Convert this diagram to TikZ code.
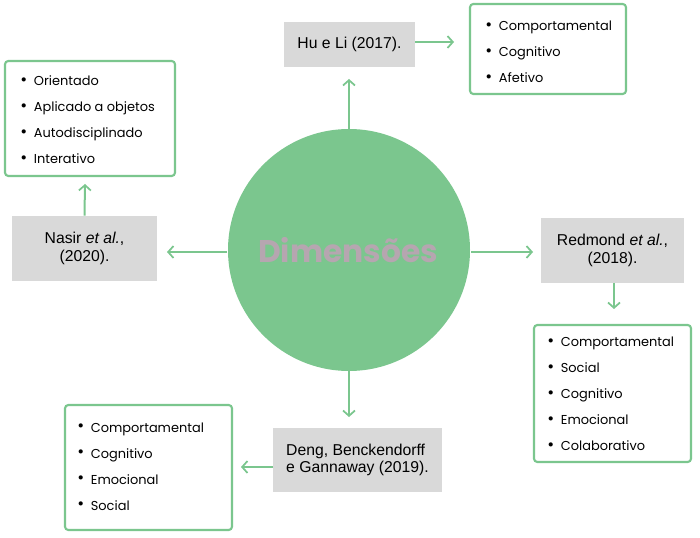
\documentclass[tikz,border=0pt]{standalone}
\usepackage{fontspec}
\setmainfont{Poppins}
\newfontfamily\reffont{Liberation Sans}
\usetikzlibrary{arrows.meta}
\definecolor{grn}{HTML}{7BC68E}
\definecolor{boxgray}{HTML}{D9D9D9}
\definecolor{dimtxt}{HTML}{B6A6B0}
\tikzset{
  refbox/.style={fill=boxgray, draw=none, inner sep=0pt, align=center,
    font=\reffont\fontsize{11.8}{13}\selectfont},
  listbox/.style={draw=grn, line width=1.6pt, rounded corners=2.5pt, fill=white, inner sep=0pt},
  listtxt/.style={inner sep=0pt, align=left, anchor=west,
    font=\fontsize{9.7}{19.5}\selectfont},
  arr/.style={draw=grn, line width=1.5pt, -{Straight Barb[length=4pt,width=9pt,line width=1.3pt]}},
}
\newcommand{\bl}{\makebox[10.2pt][l]{\raisebox{0.05ex}{\scalebox{1.3}{\textbullet}}}}
\begin{document}
\begin{tikzpicture}[x=0.75pt,y=-0.75pt]
\useasboundingbox (0,0) rectangle (700,538);
% circle
\node (C) [circle, fill=grn, minimum size=242*0.75pt, inner sep=0pt] at (349,250) {};
\node (Ct) [text=dimtxt, font=\fontsize{23.5}{28}\bfseries\selectfont, inner sep=0pt] at (348,250) {Dimensões};
% reference boxes
\node (Hu) [refbox, minimum width=131*0.75pt, minimum height=45*0.75pt] at (349.5,44.5) {Hu e Li (2017).};
\node (Na) [refbox, minimum width=145*0.75pt, minimum height=65*0.75pt] at (84.5,248.5) {Nasir \textit{et al.},\\(2020).};
\node (Re) [refbox, minimum width=143*0.75pt, minimum height=65*0.75pt] at (612.5,250.5) {Redmond \textit{et al.},\\(2018).};
\node (De) [refbox, align=left, minimum width=169*0.75pt, minimum height=64*0.75pt] at (357.5,460) {Deng, Benckendorff\\e Gannaway (2019).};
% list boxes
\node (L1) [listbox, minimum width=170*0.75pt, minimum height=115*0.75pt] at (90,118.5) {};
\node (L2) [listbox, minimum width=156*0.75pt, minimum height=90*0.75pt] at (548,49) {};
\node (L3) [listbox, minimum width=157*0.75pt, minimum height=137*0.75pt] at (612.5,393.5) {};
\node (L4) [listbox, minimum width=167*0.75pt, minimum height=125*0.75pt] at (148.5,467.5) {};
% list texts
\node (T1) [listtxt] at (20,120) {\bl Orientado\\\bl Aplicado a objetos\\\bl Autodisciplinado\\\bl Interativo};
\node (T2) [listtxt] at (485,52) {\bl Comportamental\\\bl Cognitivo\\\bl Afetivo};
\node (T3) [listtxt] at (547,394) {\bl Comportamental\\\bl Social\\\bl Cognitivo\\\bl Emocional\\\bl Colaborativo};
\node (T4) [listtxt] at (77,466.5) {\bl Comportamental\\\bl Cognitivo\\\bl Emocional\\\bl Social};
% arrows
\coordinate (a1) at (349,79);
\draw[arr] (C.north) -- (a1);
\coordinate (a2s) at (415,42);
\coordinate (a2e) at (454,42);
\draw[arr] (a2s) -- (a2e);
\coordinate (a3s) at (227,252);
\coordinate (a3e) at (167,252);
\draw[arr] (a3s) -- (a3e);
\coordinate (a4e) at (85,184);
\draw[arr] (Na.north) -- (a4e);
\coordinate (a5s) at (471,252);
\coordinate (a5e) at (533,252);
\draw[arr] (a5s) -- (a5e);
\coordinate (a6s) at (614,283);
\coordinate (a6e) at (614,309);
\draw[arr] (a6s) -- (a6e);
\coordinate (a7e) at (349,417);
\draw[arr] (C.south) -- (a7e);
\coordinate (a8s) at (273,467);
\coordinate (a8e) at (241,467);
\draw[arr] (a8s) -- (a8e);
\end{tikzpicture}
\end{document}
